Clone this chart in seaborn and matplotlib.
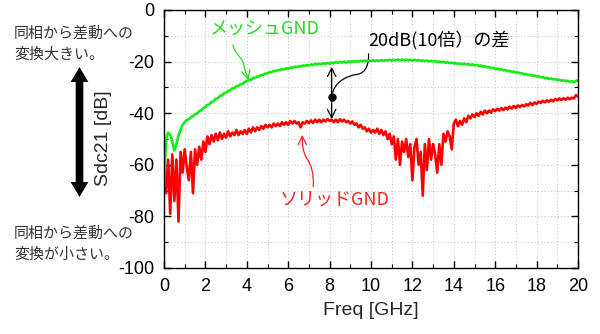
import numpy as np
import pandas as pd
import matplotlib
matplotlib.use("Agg")
import matplotlib.pyplot as plt
import seaborn as sns
from matplotlib.path import Path
from matplotlib.patches import FancyArrowPatch, PathPatch
from matplotlib.ticker import MultipleLocator

# Sample grid of the measurement: 0 to 20 GHz in 0.1 GHz steps
freq_ghz = np.round(np.arange(201) * 0.1, 1)

# Sdc21 [dB] with a meshed ground plane
mesh_db = [
    -68, -50, -47.5, -48.5, -51, -54.5, -52, -48.5, -46.5, -44.5,
    -43.5, -42.6, -42.4, -41.5, -41.2, -40.4, -40.2, -39.2, -38.9, -38.0,
    -37.6, -36.8, -36.5, -35.6, -35.4, -34.4, -34.2, -33.3, -33.1, -32.3,
    -32.0, -31.3, -31.1, -30.4, -30.2, -29.5, -29.4, -28.8, -28.6, -27.9,
    -27.6, -27.1, -27.0, -26.4, -26.3, -25.8, -25.7, -25.2, -25.1, -24.6,
    -24.6, -24.1, -24.1, -23.6, -23.7, -23.3, -23.3, -22.9, -23.0, -22.6,
    -22.7, -22.3, -22.4, -22.0, -22.1, -21.8, -21.9, -21.5, -21.7, -21.3,
    -21.5, -21.1, -21.3, -20.9, -21.1, -20.8, -21.0, -20.6, -20.9, -20.5,
    -20.8, -20.4, -20.6, -20.2, -20.5, -20.1, -20.4, -20.0, -20.3, -19.9,
    -20.2, -19.8, -20.1, -19.8, -20.0, -19.7, -19.9, -19.6, -19.9, -19.6,
    -19.8, -19.5, -19.8, -19.5, -19.7, -19.4, -19.7, -19.4, -19.6, -19.3,
    -19.6, -19.3, -19.5, -19.2, -19.5, -19.2, -19.5, -19.2, -19.5, -19.3,
    -19.6, -19.3, -19.6, -19.4, -19.7, -19.5, -19.8, -19.6, -19.9, -19.7,
    -20.0, -19.8, -20.1, -20.0, -20.3, -20.1, -20.4, -20.3, -20.6, -20.4,
    -20.7, -20.6, -20.9, -20.7, -21.0, -20.8, -21.1, -21.0, -21.3, -21.1,
    -21.4, -21.3, -21.7, -21.5, -21.9, -21.8, -22.2, -22.1, -22.5, -22.4,
    -22.8, -22.7, -23.1, -23.0, -23.4, -23.3, -23.7, -23.6, -24.0, -23.9,
    -24.3, -24.2, -24.6, -24.5, -24.9, -24.8, -25.2, -25.1, -25.5, -25.4,
    -25.8, -25.7, -26.1, -26.0, -26.4, -26.3, -26.7, -26.5, -26.9, -26.8,
    -27.1, -27.0, -27.4, -27.2, -27.6, -27.4, -27.8, -27.6, -28.0, -27.5,
    -27.2,
]

# Sdc21 [dB] with a solid ground plane
solid_db = [
    -62, -71, -58, -79, -56, -74, -58, -82, -55, -63,
    -54, -61, -66, -55, -71, -54, -60, -53, -58, -51,
    -55, -49, -52, -48.5, -51, -48, -50.5, -47.5, -50, -48,
    -49.5, -47, -49, -47.5, -48.5, -46.5, -48.5, -47, -48, -46.5,
    -48, -46, -47.5, -45.5, -47, -45.5, -46.5, -45, -46, -44.5,
    -45.5, -44.5, -45.5, -44, -45, -44, -45, -43.5, -44.5, -43.5,
    -44.5, -43, -44, -43, -44, -43.5, -45.5, -43.5, -44, -43,
    -43.8, -42.8, -43.8, -42.5, -43.5, -42.5, -43.5, -42.5, -43.2, -42.3,
    -43, -42.5, -43.5, -42.5, -43.5, -42.3, -43.2, -42.5, -43.5, -43,
    -44, -43.2, -44.5, -44, -45.5, -44.5, -46, -45.5, -47, -46,
    -47.5, -46.5, -47.5, -46, -48, -46.5, -48.5, -47, -50, -48,
    -52, -49, -58, -50, -60, -51, -55, -50, -57, -52,
    -66, -53, -50, -60, -55, -72, -52, -62, -50, -58,
    -52, -56, -63, -52, -60, -48, -51, -47, -49, -54,
    -44, -42.5, -45, -43, -44.5, -42, -43.5, -41, -42, -40.5,
    -41.5, -40, -41, -39.5, -40.5, -39, -40, -39, -39.8, -38.5,
    -39.2, -38.3, -39, -38, -38.8, -37.8, -38.5, -37.5, -38.2, -37.2,
    -38, -37, -37.6, -36.8, -37.4, -36.5, -37, -36, -36.8, -35.8,
    -36.4, -35.5, -36, -35.2, -35.8, -35, -35.6, -34.8, -35.4, -34.5,
    -35, -34.3, -34.9, -34.2, -34.8, -34, -34.6, -34, -34.3, -33,
    -33.5,
]

series_names = ["ソリッドGND", "メッシュGND"]
series_colors = ["#ff0000", "#11ee11"]
x_ticks = [0, 2, 4, 6, 8, 10, 12, 14, 16, 18, 20]
y_ticks = [0, -20, -40, -60, -80, -100]

sns.set_theme(style="ticks")
plt.rcParams["font.family"] = ["Liberation Sans", "Noto Sans CJK JP", "DejaVu Sans"]
plt.rcParams["axes.unicode_minus"] = False

df = pd.DataFrame({
    "freq": np.concatenate([freq_ghz, freq_ghz]),
    "sdc21": np.array(solid_db + mesh_db, dtype=float),
    "gnd": [series_names[0]] * len(solid_db) + [series_names[1]] * len(mesh_db),
})

W, H = 600, 334
fig = plt.figure(figsize=(W / 100, H / 100), dpi=100)
ax = fig.add_axes([164 / W, 1 - 268 / H, 414 / W, 258 / H])

sns.lineplot(data=df, x="freq", y="sdc21", hue="gnd", hue_order=series_names,
             palette=series_colors, linewidth=1.9, legend=False,
             estimator=None, sort=False, ax=ax)

ax.set_xlim(0, 20)
ax.set_ylim(-100, 0)
ax.set_xticks(x_ticks)
ax.set_yticks(y_ticks)
ax.xaxis.set_minor_locator(MultipleLocator(1))
ax.yaxis.set_minor_locator(MultipleLocator(10))
ax.grid(which="both", color="#c8c8c8", linestyle=(0, (1, 2)), linewidth=0.8)
ax.set_axisbelow(True)
ax.tick_params(which="both", direction="in", top=True, right=True,
               colors="black", labelsize=13)
ax.tick_params(which="major", length=5, width=1, pad=7)
ax.tick_params(which="minor", length=3, width=0.8)
for s in ax.spines.values():
    s.set_color("black")
    s.set_linewidth(1)

ax.set_xlabel("Freq [GHz]", fontsize=14, labelpad=5)
ax.set_ylabel("")
fig.text(104 / W, 1 - 138 / H, "Sdc21 [dB]", rotation=90, fontsize=14,
         ha="center", va="center")

# Side notes and the large double arrow
jp = ["Noto Sans CJK JP", "DejaVu Sans"]
note_kw = dict(fontsize=10.8, color="#333333", family=jp, ha="left", va="center")
fig.text(14 / W, 1 - 33 / H, "同相から差動への", **note_kw)
fig.text(14 / W, 1 - 55 / H, "変換大きい。", **note_kw)
fig.text(14 / W, 1 - 233 / H, "同相から差動への", **note_kw)
fig.text(14 / W, 1 - 255 / H, "変換が小さい。", **note_kw)

mid = (79.5 / W, 1 - 132 / H)
for tip_y in (67, 197):
    fig.patches.append(FancyArrowPatch(
        mid, (79.5 / W, 1 - tip_y / H), transform=fig.transFigure,
        arrowstyle="simple,head_length=10.8,head_width=12.7,tail_width=5.5",
        mutation_scale=1, shrinkA=0, shrinkB=0, color="black", lw=0))

# Series labels with pointer arrows
ax.text(2.22, -7.8, "メッシュGND", color="#22dd22", fontsize=13, family=jp,
        ha="left", va="center")
ax.text(5.6, -74, "ソリッドGND", color="#ff2020", fontsize=13, family=jp,
        ha="left", va="center")

C4 = Path.CURVE4
green_ptr = Path([(3.33, -13.6), (3.45, -17.5), (3.8, -18.5), (3.85, -21),
                  (3.9, -23.5), (4.0, -25), (4.07, -27.2)],
                 [Path.MOVETO, C4, C4, C4, C4, C4, C4])
ax.add_patch(FancyArrowPatch(path=green_ptr, arrowstyle="->,head_length=0.6,head_width=0.3",
                             mutation_scale=10, color="#22dd22", lw=0.9))
red_ptr = Path([(7.21, -68.5), (7.25, -63), (7.1, -60), (6.9, -57.5),
                (6.7, -55), (6.68, -52), (6.68, -48.4)],
               [Path.MOVETO, C4, C4, C4, C4, C4, C4])
ax.add_patch(FancyArrowPatch(path=red_ptr, arrowstyle="->,head_length=0.6,head_width=0.3",
                             mutation_scale=10, color="#ff2020", lw=0.9))

# Gap marker between the two curves at 8 GHz
gap_f, gap_mid, gap_top, gap_bot = 8.1, -33.6, -22.0, -42.3
for end in (gap_top, gap_bot):
    ax.add_patch(FancyArrowPatch((gap_f, gap_mid), (gap_f, end),
                                 arrowstyle="->,head_length=0.6,head_width=0.3",
                                 mutation_scale=10, color="black", lw=0.9,
                                 shrinkA=0, shrinkB=0))
ax.plot([gap_f], [gap_mid], "o", color="black", ms=5, zorder=5)
leader = Path([(gap_f, gap_mid), (8.2, -27.5), (8.9, -25.5), (9.3, -25),
               (9.8, -24.5), (9.9, -20.5), (9.88, -16.8)],
              [Path.MOVETO, C4, C4, C4, C4, C4, C4])
ax.add_patch(PathPatch(leader, fill=False, color="black", lw=0.9))
ax.text(9.86, -11.6, "20dB(10倍）の差", fontsize=13, family=jp, color="black",
        ha="left", va="center")

fig.savefig("out.png", dpi=100)
